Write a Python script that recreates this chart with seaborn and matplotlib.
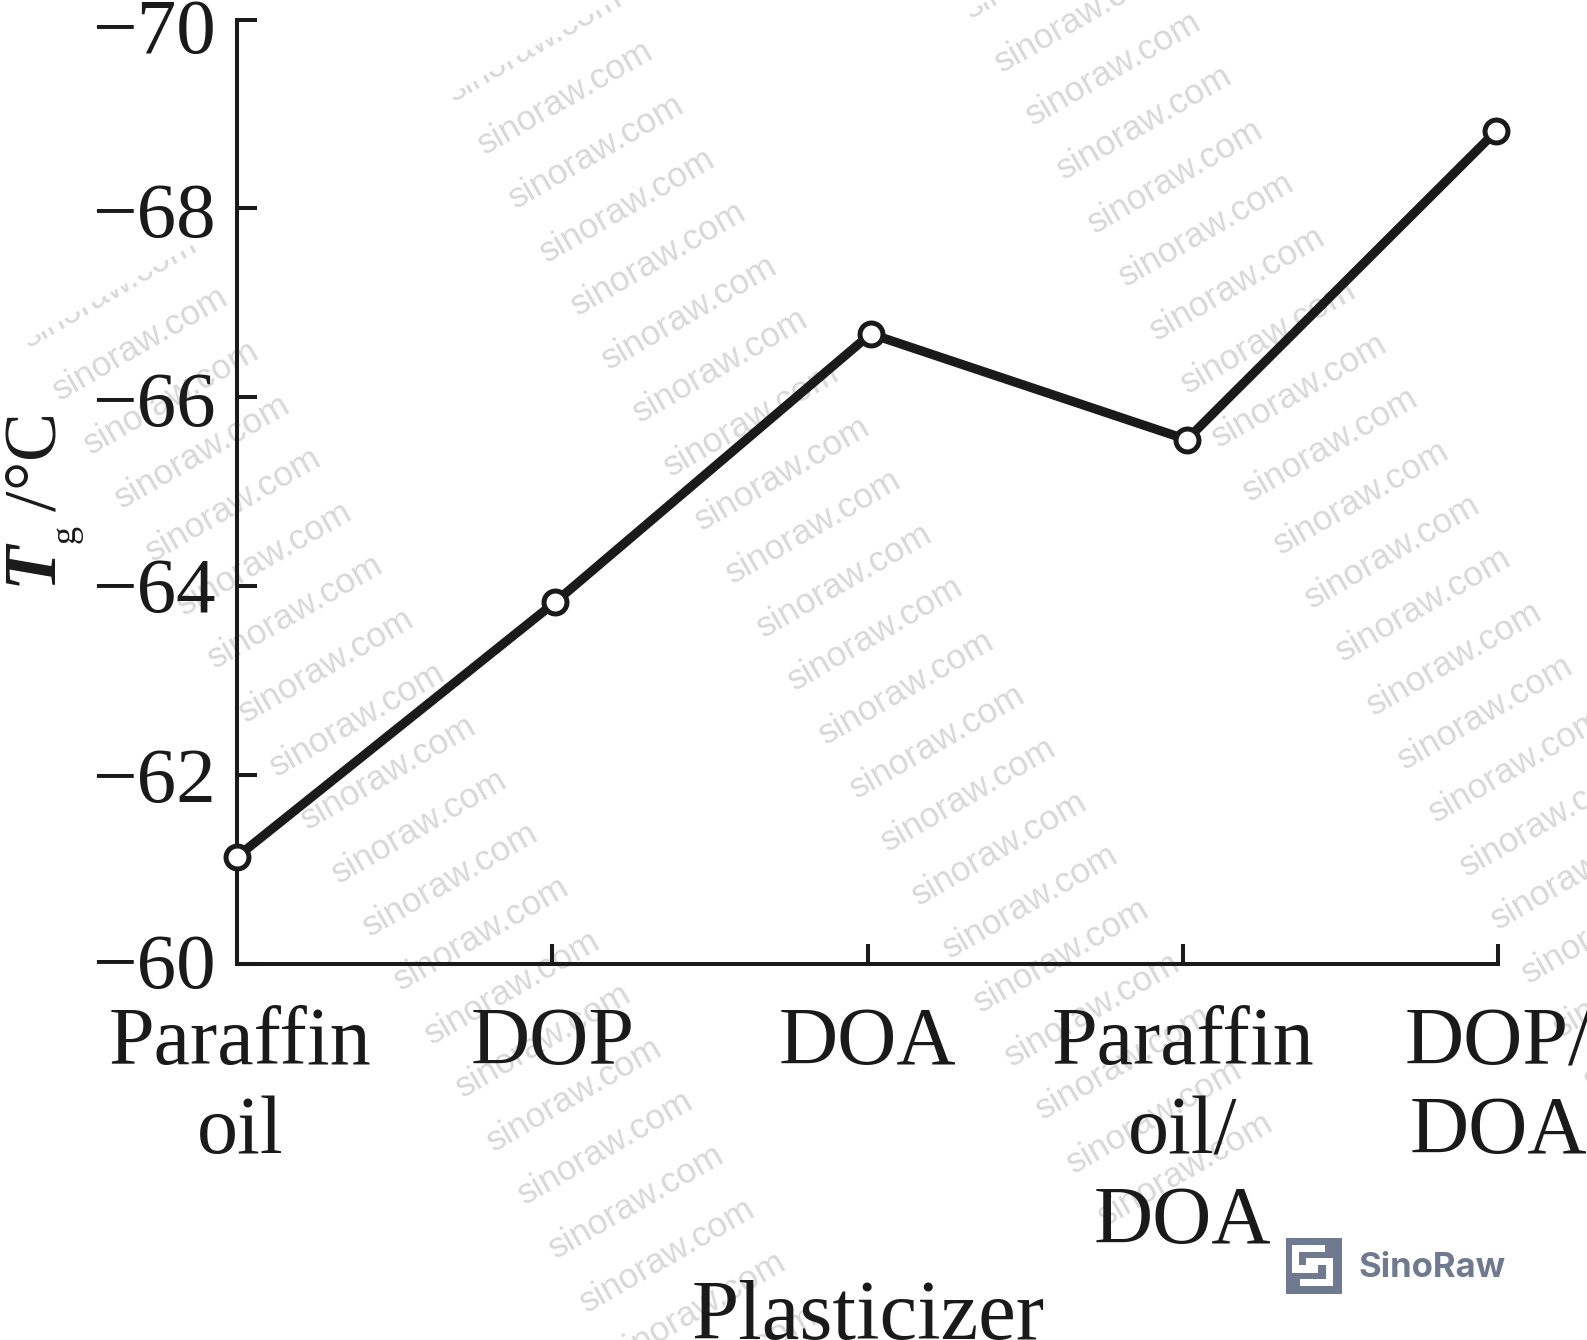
import matplotlib
matplotlib.use("Agg")
import matplotlib.pyplot as plt
from matplotlib.patches import Polygon, Rectangle
from matplotlib.transforms import Affine2D
import pandas as pd
import seaborn as sns

plasticizers = ["Paraffin\noil", "DOP", "DOA", "Paraffin\noil/\nDOA", "DOP/\nDOA"]
plasticizer_pos = [0.0, 1.01, 2.01, 3.013, 3.995]
tg_values = [-61.13, -63.83, -66.67, -65.55, -68.82]
tg_ticks = [-70, -68, -66, -64, -62, -60]
tg_tick_labels = ["\u221270", "\u221268", "\u221266", "\u221264", "\u221262", "\u221260"]

W, H = 1587, 1340
INK = "#1a1a1a"
STAMP = "#d8d8d8"
BRAND = "#6f7a90"
SERIF = "Liberation Serif"

sns.set_theme(style="white")
plt.rcParams["font.family"] = [SERIF, "DejaVu Serif"]
plt.rcParams["mathtext.fontset"] = "custom"
plt.rcParams["mathtext.rm"] = SERIF
plt.rcParams["mathtext.bfit"] = f"{SERIF}:italic:bold"

fig = plt.figure(figsize=(W / 100, H / 100), dpi=100, facecolor="white")
ax = fig.add_axes([237 / W, 1 - 963.5 / H, (1498 - 237) / W, (963.5 - 19.5) / H])
ax.patch.set_visible(False)

table = pd.DataFrame({"pos": plasticizer_pos, "tg": tg_values})
sns.lineplot(
    data=table, x="pos", y="tg", ax=ax, color=INK, linewidth=6.6, sort=False,
    errorbar=None, marker="o", markersize=16.5, markerfacecolor="white",
    markeredgecolor=INK, markeredgewidth=3.6, clip_on=False, zorder=5,
)

ax.set_xlim(0, 4)
ax.set_ylim(-60, -70)
for side in ("top", "right"):
    ax.spines[side].set_visible(False)
for side in ("left", "bottom"):
    ax.spines[side].set_linewidth(2.9)
    ax.spines[side].set_color(INK)

ax.set_yticks(tg_ticks, tg_tick_labels)
ax.set_xticks(range(len(plasticizers)), plasticizers)
ax.tick_params(axis="both", direction="in", length=14.4, width=2.9, color=INK,
               labelcolor=INK, left=True, bottom=True)
ax.tick_params(axis="y", labelsize=57, pad=15)
ax.tick_params(axis="x", labelsize=59, pad=31)
for lab, dx in zip(ax.get_xticklabels(), [3, 0, 0, 0, 0]):
    lab.set_linespacing(1.24)
    lab.set_transform(lab.get_transform() + Affine2D().translate(dx, 0))

# the numerals sit a little below their tick marks
y_shift_px = [15, 10, 10, 7, 9, 6]
for lab, dy in zip(ax.get_yticklabels(), y_shift_px):
    lab.set_transform(lab.get_transform() + Affine2D().translate(0, -dy))
    lab.set_verticalalignment("center")

ax.set_xlabel("Plasticizer", fontsize=61, color=INK, va="baseline", ha="center")
ax.xaxis.set_label_coords(868 / W, 1 - 1339 / H, transform=fig.transFigure)
ax.set_ylabel(r"$\mathbfit{T}_{_{\mathrm{g}}}\,$/°C", fontsize=53, color=INK,
              va="baseline", ha="center", rotation=90, rotation_mode="anchor")
ax.yaxis.set_label_coords(57 / W, 1 - 503 / H, transform=fig.transFigure)

# diagonal site stamps behind the plot
STEP_X, STEP_Y = 31, 53.6
ANGLE = 30.0
columns = [((140.7, 344), -1, 19), ((565, 98), -1, 20), ((1113, 69), -2, 18)]
for (x0, y0), first, last in columns:
    for k in range(first, last + 1):
        cx, cy = x0 + k * STEP_X, y0 + k * STEP_Y
        fig.text(cx / W, 1 - cy / H, "sinoraw.com", family="Liberation Sans",
                 fontsize=25.5, color=STAMP, rotation=ANGLE, ha="center", va="center",
                 rotation_mode="anchor", zorder=-2)
        if k == first:
            # only the lower part of the first stamp in each run stays visible
            fig.add_artist(Rectangle(
                (-125, -2), 250, 50, facecolor="white", edgecolor="none", zorder=-1,
                transform=Affine2D().rotate_deg(ANGLE).translate(cx, H - cy),
            ))

# brand mark in the lower right corner: a square with a white interlocking S
to_page = Affine2D().scale(1 / 3, -1 / 3).translate(1280, H - 1232)
fig.add_artist(Rectangle((18, 18), 167, 167, facecolor=BRAND, edgecolor="none",
                         transform=to_page, zorder=2))
for outline in (
    [(37, 38), (135, 38), (135, 60), (58, 60), (58, 100), (115, 100), (115, 122), (37, 122)],
    [(78, 78), (160, 78), (160, 163), (60, 163), (60, 140), (137, 140), (137, 100), (78, 100)],
):
    fig.add_artist(Polygon(outline, closed=True, facecolor="white", edgecolor="none",
                           transform=to_page, zorder=3))
fig.text(1359 / W, 1 - 1277 / H, "SinoRaw", family="Inter", fontweight="bold",
         fontsize=25, color=BRAND, ha="left", va="baseline")

fig.savefig("out.png", dpi=100)
